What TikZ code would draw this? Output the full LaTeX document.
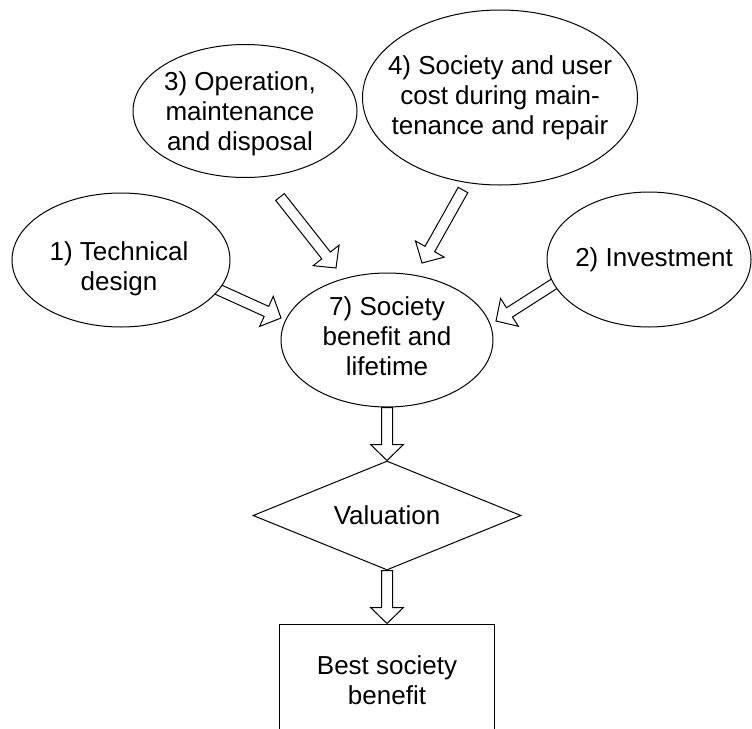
\documentclass[tikz,border=0pt]{standalone}
\usepackage{fontspec}
\setmainfont{Liberation Sans}
\usetikzlibrary{calc,shapes.geometric}

\pgfdeclarelayer{arrowlayer}
\pgfsetlayers{arrowlayer,main}

\tikzset{
  txt/.style={font=\fontsize{26pt}{30pt}\selectfont},
  oval/.style={draw, ellipse, fill=white, inner sep=0pt, line width=1pt},
  caption/.style={txt, align=center, inner sep=0pt},
  decision/.style={draw, diamond, fill=white, aspect=2.46, inner sep=0pt,
    line width=1pt, txt, align=center},
  result/.style={draw, rectangle, fill=white, inner sep=0pt, line width=1pt,
    txt, align=center},
  hollow/.style={draw, fill=white, line width=1pt, line join=miter}
}

% hollow block arrow from #1 (tail) to #2 (tip)
\newcommand\hollowarrow[2]{%
  \path ($(#2)!16pt!(#1)$) coordinate (hb);
  \draw[hollow] ($(#1)!5.5pt!90:(#2)$) -- ($(hb)!5.5pt!90:(#2)$)
    -- ($(hb)!16.5pt!90:(#2)$) -- (#2) -- ($(hb)!16.5pt!-90:(#2)$)
    -- ($(hb)!5.5pt!-90:(#2)$) -- ($(#1)!5.5pt!-90:(#2)$) -- cycle;}

\begin{document}
\begin{tikzpicture}[x=1pt, y=-1pt]
  \useasboundingbox (0,0) rectangle (752,728);

  % input ovals
  \node[oval, minimum width=218pt, minimum height=134pt] (e1) at (121,260) {};
  \node[oval, minimum width=204pt, minimum height=135pt] (e2) at (649,259.5) {};
  \node[oval, minimum width=224pt, minimum height=133pt] (e3) at (245,111) {};
  \node[oval, minimum width=275pt, minimum height=175pt] (e4) at (500,97.5) {};
  \node[oval, minimum width=212pt, minimum height=134pt] (e7) at (387,340) {};

  \node[caption] (t1) at (119,269) {1) Technical\\design};
  \node[caption] (t2) at (654,260) {2) Investment};
  \node[caption] (t3) at (240,114) {3) Operation,\\maintenance\\and disposal};
  \node[caption] (t4) at (500,98) {4) Society and user\\cost during main-\\tenance and repair};
  \node[caption] (t7) at (387,336.5) {7) Society\\benefit and\\lifetime};

  % valuation and result
  \node[decision, minimum width=268pt, minimum height=109pt] (val) at (387,515.5) {Valuation};
  \node[result, minimum width=215pt, minimum height=112pt] (best) at (387,680) {Best society\\benefit};

  % arrow end points
  \coordinate (a1s) at (217,289);  \coordinate (a1e) at (281,318);
  \coordinate (a2s) at (557,282);  \coordinate (a2e) at (496,321);
  \coordinate (a3s) at (280,197);  \coordinate (a3e) at (336,268);
  \coordinate (a4s) at (463,190);  \coordinate (a4e) at (422,263);

  \begin{pgfonlayer}{arrowlayer}
    \hollowarrow{a1s}{a1e}
    \hollowarrow{a2s}{a2e}
    \hollowarrow{a3s}{a3e}
    \hollowarrow{a4s}{a4e}
    \hollowarrow{e7.south}{val.north}
    \hollowarrow{val.south}{best.north}
  \end{pgfonlayer}
\end{tikzpicture}
\end{document}
